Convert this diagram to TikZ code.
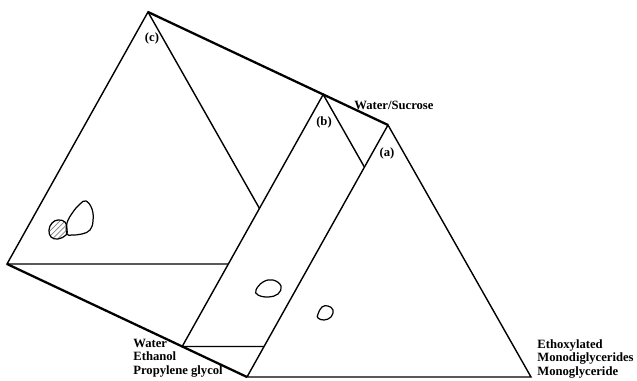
\documentclass[tikz,border=0pt]{standalone}
\usepackage{fontspec}
\setmainfont{Liberation Serif}
\usetikzlibrary{calc, patterns}

\begin{document}
\begin{tikzpicture}[
  x=0.02cm, y=-0.02cm,
  every node/.style={font=\fontsize{7.2}{7.8}\selectfont\bfseries, inner sep=0pt},
  edge/.style={line width=0.8pt},
  ridge/.style={line width=1.3pt},
  blob/.style={line width=0.7pt},
]
\useasboundingbox (0,0) rectangle (637,381);

% corners of the three sections
\coordinate (c1) at (148,12);
\coordinate (c2) at (7,264);
\coordinate (c3) at (291,264);
\coordinate (a1) at (388,125);
\coordinate (a2) at (247,377);
\coordinate (a3) at (531,377);
\coordinate (b1) at ($(c1)!0.73!(a1)$);
\coordinate (b2) at ($(c2)!0.73!(a2)$);
\coordinate (b3) at ($(c3)!0.73!(a3)$);
\coordinate (cbase) at (intersection of c2--c3 and b1--b2);
\coordinate (cside) at (intersection of c1--c3 and b1--b2);
\coordinate (bbase) at (intersection of b2--b3 and a1--a2);
\coordinate (bside) at (intersection of b1--b3 and a1--a2);

\draw[ridge] (c1) -- (a1);
\draw[ridge] (c2) -- (a2);
\draw[edge] (cbase) -- (c2) -- (c1) -- (cside);
\draw[edge] (bbase) -- (b2) -- (b1) -- (bside);
\draw[edge] (a1) -- (a2) -- (a3) -- cycle;

% regions
\draw[blob] plot[smooth cycle, tension=0.7] coordinates {(86,201) (92,209) (93,221) (90,230) (82,234) (72,235) (67,234) (67,223) (73,212) (80,204)};
\draw[blob, pattern=north east lines, pattern color=gray] plot[smooth cycle, tension=0.7] coordinates {(58,220) (65,222) (67,229) (66,235) (58,239) (51,237) (49,230) (52,223)};
\draw[blob] plot[smooth cycle, tension=0.7] coordinates {(256,290) (263,282) (273,280) (281,286) (278,294) (268,297) (258,295)};
\draw[blob] plot[smooth cycle, tension=0.7] coordinates {(318,314) (322,307) (328,306) (333,310) (331,317) (324,320) (318,318)};

\node (lc) at (152,38) {(c)};
\node (lb) at (324,122) {(b)};
\node (la) at (387,153) {(a)};
\node[anchor=west] (sucrose) at (354,105) {Water/Sucrose};
\node[anchor=west, align=left] (solvent) at (133,358) {Water\\Ethanol\\Propylene glycol};
\node[anchor=west, align=left] (emulsifier) at (537,359) {Ethoxylated\\Monodiglycerides\\Monoglyceride};
\end{tikzpicture}
\end{document}
